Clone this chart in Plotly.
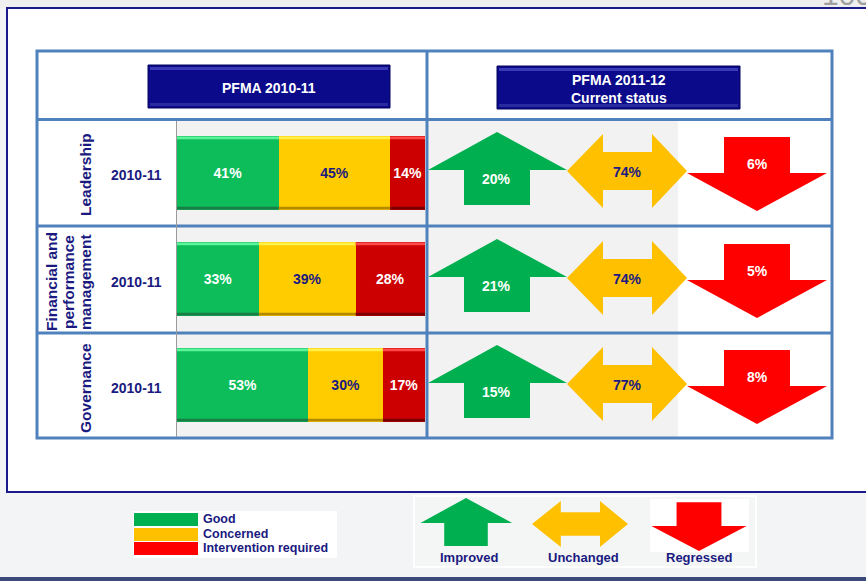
import plotly.graph_objects as go

# ---------------- data ----------------
areas = ["Leadership", "Financial and<br>performance<br>management", "Governance"]
years = ["2010-11", "2010-11", "2010-11"]
good = [41, 33, 53]
concerned = [45, 39, 30]
intervention = [14, 28, 17]
improved = [20, 21, 15]
unchanged = [74, 74, 77]
regressed = [6, 5, 8]
header_left = "PFMA 2010-11"
header_right = "PFMA 2011-12<br>Current status"
legend_status = ["Good", "Concerned", "Intervention required"]
legend_change = ["Improved", "Unchanged", "Regressed"]

# ---------------- styles ----------------
W, H = 866, 581
FONT = "Liberation Sans, Arial, sans-serif"
NAVY = "#1a1a80"
TABLE = "#4f81bd"
BAR_COLORS = ["#0cbd5a", "#ffcc00", "#cc0000"]
BAR_TOP = ["#5cf39a", "#fff04a", "#ff4a4a"]
BAR_BOT = ["#1a7d45", "#b38900", "#7a0000"]
BAR_TXT = ["white", NAVY, "white"]
ARROW_COLORS = ["#00b050", "#ffc000", "#ff0000"]

fig = go.Figure()
shapes = []
ann = []


def rect(x0, y0, x1, y1, fill=None, line=None, lw=0, layer="below", xref="x", yref="y"):
    shapes.append(dict(type="rect", x0=x0, y0=y0, x1=x1, y1=y1, xref=xref, yref=yref,
                       fillcolor=fill if fill else "rgba(0,0,0,0)",
                       line=dict(color=line if line else "rgba(0,0,0,0)", width=lw),
                       layer=layer))


def hline(x0, x1, y, color, lw, layer="above"):
    shapes.append(dict(type="line", x0=x0, x1=x1, y0=y, y1=y, xref="x", yref="y",
                       line=dict(color=color, width=lw), layer=layer))


def vline(x, y0, y1, color, lw, layer="above"):
    shapes.append(dict(type="line", x0=x, x1=x, y0=y0, y1=y1, xref="x", yref="y",
                       line=dict(color=color, width=lw), layer=layer))


def text(x, y, s, size=14, color=NAVY, xanchor="center", angle=0, family=FONT):
    ann.append(dict(x=x, y=y, xref="x", yref="y", text=s, showarrow=False,
                    xanchor=xanchor, yanchor="middle", textangle=angle,
                    font=dict(family=family, size=size, color=color, weight="bold")))


# ---------------- background panels ----------------
rect(0, 0, W, 8, fill="#efefef")
rect(7, 8, 880, 492, fill="white", line="#1a1a8a", lw=2)
rect(0, 577, W, 581, fill="#3b4a78")
rect(177, 121, 678, 438, fill="#f2f2f2")

# ---------------- stacked bars (real bar traces) ----------------
rows = [0, 1, 2]
series = [good, concerned, intervention]
for k, vals in enumerate(series):
    fig.add_trace(go.Bar(
        y=rows, x=vals, orientation="h", xaxis="x2", yaxis="y2",
        width=0.69, marker=dict(color=BAR_COLORS[k], line=dict(width=0)),
        text=[f"{v}%" for v in vals], textposition="inside",
        insidetextanchor="middle", textangle=0,
        textfont=dict(family=FONT, size=14, color=BAR_TXT[k], weight="bold"),
        hoverinfo="skip", showlegend=False))

# bevel strips computed from the data
for i in rows:
    start = 0
    for k, vals in enumerate(series):
        end = start + vals[i]
        shapes.append(dict(type="rect", xref="x2", yref="y2", x0=start, x1=end,
                           y0=i - 0.345, y1=i - 0.318, fillcolor=BAR_TOP[k],
                           line=dict(width=0), layer="above"))
        shapes.append(dict(type="rect", xref="x2", yref="y2", x0=start, x1=end,
                           y0=i + 0.318, y1=i + 0.345, fillcolor=BAR_BOT[k],
                           line=dict(width=0), layer="above"))
        start = end

# ---------------- arrows ----------------
row_c = [173, 280, 386]
UP = [(0, -41), (70, -3), (33, -3), (33, 32), (-33, 32), (-33, -3), (-69, -3), (0, -41)]
BOTH = [(-60, 0), (-24, -37), (-24, -19), (25, -19), (25, -37), (60, 0),
        (25, 37), (25, 19), (-24, 19), (-24, 37), (-60, 0)]
DOWN = [(-33, -36), (33, -36), (33, 0), (70, 0), (0, 38), (-70, 0), (-33, 0), (-33, -36)]


def arrow(poly, cx, cy, color, sx=1.0, sy=1.0):
    fig.add_trace(go.Scatter(
        x=[cx + px * sx for px, py in poly], y=[cy + py * sy for px, py in poly],
        mode="lines", fill="toself", fillcolor=color, line=dict(width=0, color=color),
        hoverinfo="skip", showlegend=False, xaxis="x", yaxis="y"))


for i, c in enumerate(row_c):
    arrow(UP, 497, c, ARROW_COLORS[0])
    arrow(BOTH, 627, c - 2, ARROW_COLORS[1])
    arrow(DOWN, 757, c, ARROW_COLORS[2])
    text(496, c + 6, f"{improved[i]}%", color="white")
    text(627, c - 1, f"{unchanged[i]}%", color=NAVY)
    text(757, c - 9, f"{regressed[i]}%", color="white")

# ---------------- table grid ----------------
rect(37, 51, 832, 438, line=TABLE, lw=3, layer="above")
for y in [119.5, 226, 333]:
    hline(37, 832, y, TABLE, 3)
vline(427, 51, 438, TABLE, 3)
vline(176.5, 121, 437, "#9a9a9a", 1)

# row labels
for i, c in enumerate(row_c):
    text(136, c + 2, years[i], size=14)
label_c = [175, 282, 388]
for i, lab in enumerate(areas):
    parts = lab.split("<br>")
    n = len(parts)
    for j, p in enumerate(parts):
        text(85 - 17 * (n - 1 - j), label_c[i], p, size=15.5, angle=-90)

# ---------------- header boxes ----------------
for (x0, y0, x1, y1, s) in [(148, 65, 390, 108, header_left), (497, 66, 740, 109, header_right)]:
    rect(x0, y0, x1, y1, fill="#0a0a8a", line="#05055e", lw=1, layer="above")
    rect(x0 + 2, y0 + 2, x1 - 2, y0 + 5, fill="#3a3ab6", layer="above")
    rect(x0 + 2, y1 - 5, x1 - 2, y1 - 2, fill="#2a2aa0", layer="above")
    text((x0 + x1) / 2, (y0 + y1) / 2 + 1, s, size=14, color="white")

# ---------------- legends ----------------
rect(133, 511, 337, 558, fill="white")
sw_y = [513, 528, 542]
for k, lab in enumerate(legend_status):
    rect(134, sw_y[k], 198, sw_y[k] + 13, fill=ARROW_COLORS[k])
    text(201, sw_y[k] + 6, lab, size=12.5, xanchor="left")

rect(414, 496, 756, 567, fill="#f4f6f6", line="white", lw=2)
rect(650, 499, 749, 552, fill="white")
arrow(UP, 466, 525, ARROW_COLORS[0], sx=0.66, sy=0.66)
arrow(BOTH, 580, 524, ARROW_COLORS[1], sx=0.8, sy=0.62)
arrow(DOWN, 699, 526, ARROW_COLORS[2], sx=0.68, sy=0.66)
for x, lab in zip([469, 583, 699], legend_change):
    text(x, 557, lab, size=13)

# page number fragment at top right
ann.append(dict(x=820, y=13, xref="x", yref="y", text="100", showarrow=False,
                xanchor="left", yanchor="bottom",
                font=dict(family=FONT, size=30, color="#a0a0a0")))

fig.update_layout(
    width=W, height=H, autosize=False,
    margin=dict(l=0, r=0, t=0, b=0, pad=0),
    paper_bgcolor="#f3f4f5", plot_bgcolor="rgba(0,0,0,0)",
    showlegend=False, barmode="stack", hovermode=False,
    xaxis=dict(range=[0, W], domain=[0, 1], visible=False, fixedrange=True),
    yaxis=dict(range=[H, 0], domain=[0, 1], visible=False, fixedrange=True),
    xaxis2=dict(range=[0, 100], domain=[177 / W, 425 / W], anchor="y2",
                visible=False, fixedrange=True),
    yaxis2=dict(range=[2.5, -0.5], domain=[1 - 438 / H, 1 - 120 / H], anchor="x2",
                visible=False, fixedrange=True),
    shapes=shapes, annotations=ann,
)

fig.write_html("out.html", config={"displayModeBar": False},
               post_script="document.body.style.margin='0px';")
